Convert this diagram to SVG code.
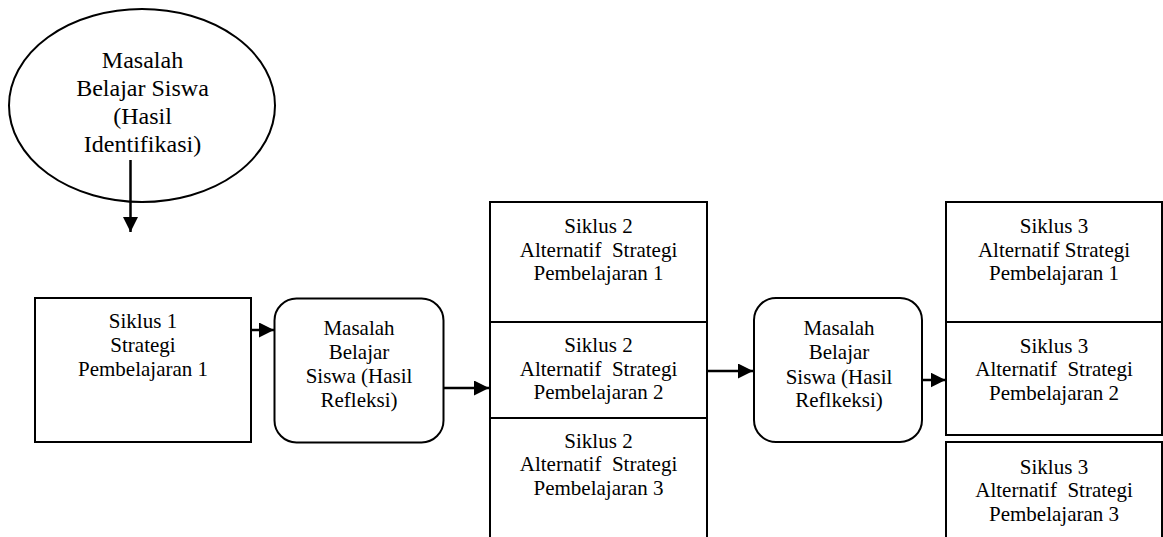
<svg xmlns="http://www.w3.org/2000/svg" width="1163" height="537" viewBox="0 0 1163 537">
<defs>
<style>
.shape{fill:#fff;stroke:#000;stroke-width:2}
.t{font-family:"Liberation Serif","Times New Roman",serif;font-size:21px;fill:#000;text-anchor:middle;white-space:pre}
.tb{font-size:24px}
.conn{stroke:#000;stroke-width:2.5;fill:none;marker-end:url(#ah)}
</style>
<marker id="ah" markerUnits="userSpaceOnUse" markerWidth="15" markerHeight="15" refX="15" refY="7.5" orient="auto" viewBox="0 0 15 15">
<path d="M0,0 L15,7.5 L0,15 z" fill="#000"/>
</marker>
</defs>
<g id="n-ellipse">
<ellipse class="shape" cx="142" cy="105.5" rx="133" ry="96.5"/>
<text class="t tb" x="142.5" y="68">Masalah</text>
<text class="t tb" x="142.5" y="95.5">Belajar Siswa</text>
<text class="t tb" x="142.5" y="123.5">(Hasil</text>
<text class="t tb" x="142.5" y="151.5">Identifikasi)</text>
</g>
<g id="n-siklus1">
<rect class="shape" x="35" y="298" width="216" height="144"/>
<text class="t" x="143" y="328">Siklus 1</text>
<text class="t" x="143" y="352">Strategi</text>
<text class="t" x="143" y="376">Pembelajaran 1</text>
</g>
<g id="n-masalah1">
<rect class="shape" x="274.5" y="298.5" width="169" height="144" rx="22"/>
<text class="t" x="359" y="335">Masalah</text>
<text class="t" x="359" y="359">Belajar</text>
<text class="t" x="359" y="383">Siswa (Hasil</text>
<text class="t" x="359" y="407">Refleksi)</text>
</g>
<g id="n-s2a">
<rect class="shape" x="490" y="202" width="217" height="120"/>
<text class="t" x="598.5" y="233">Siklus 2</text>
<text class="t" x="598.5" y="257">Alternatif  Strategi</text>
<text class="t" x="598.5" y="280">Pembelajaran 1</text>
</g>
<g id="n-s2b">
<rect class="shape" x="490" y="322" width="217" height="96"/>
<text class="t" x="598.5" y="352">Siklus 2</text>
<text class="t" x="598.5" y="375.5">Alternatif  Strategi</text>
<text class="t" x="598.5" y="399">Pembelajaran 2</text>
</g>
<g id="n-s2c">
<rect class="shape" x="490" y="418" width="217" height="140"/>
<text class="t" x="598.5" y="447.5">Siklus 2</text>
<text class="t" x="598.5" y="471">Alternatif  Strategi</text>
<text class="t" x="598.5" y="494.5">Pembelajaran 3</text>
</g>
<g id="n-masalah2">
<rect class="shape" x="754" y="298" width="168" height="144" rx="22"/>
<text class="t" x="839" y="334.5">Masalah</text>
<text class="t" x="839" y="359">Belajar</text>
<text class="t" x="839" y="384">Siswa (Hasil</text>
<text class="t" x="839" y="407">Reflkeksi)</text>
</g>
<g id="n-s3a">
<rect class="shape" x="946" y="202" width="216" height="120"/>
<text class="t" x="1054" y="233">Siklus 3</text>
<text class="t" x="1054" y="257">Alternatif Strategi</text>
<text class="t" x="1054" y="280">Pembelajaran 1</text>
</g>
<g id="n-s3b">
<rect class="shape" x="946" y="322" width="216" height="113"/>
<text class="t" x="1054" y="352.5">Siklus 3</text>
<text class="t" x="1054" y="376">Alternatif  Strategi</text>
<text class="t" x="1054" y="399.5">Pembelajaran 2</text>
</g>
<g id="n-s3c">
<rect class="shape" x="946" y="442" width="216" height="120"/>
<text class="t" x="1054" y="473.5">Siklus 3</text>
<text class="t" x="1054" y="497">Alternatif  Strategi</text>
<text class="t" x="1054" y="520.5">Pembelajaran 3</text>
</g>
<g id="connectors">
<line class="conn" x1="130.5" y1="160" x2="130.5" y2="232"/>
<line class="conn" x1="251" y1="330" x2="274" y2="330"/>
<line class="conn" x1="443.5" y1="388" x2="489" y2="388"/>
<line class="conn" x1="707" y1="371" x2="753" y2="371"/>
<line class="conn" x1="922" y1="380" x2="945.5" y2="380"/>
</g>
</svg>
